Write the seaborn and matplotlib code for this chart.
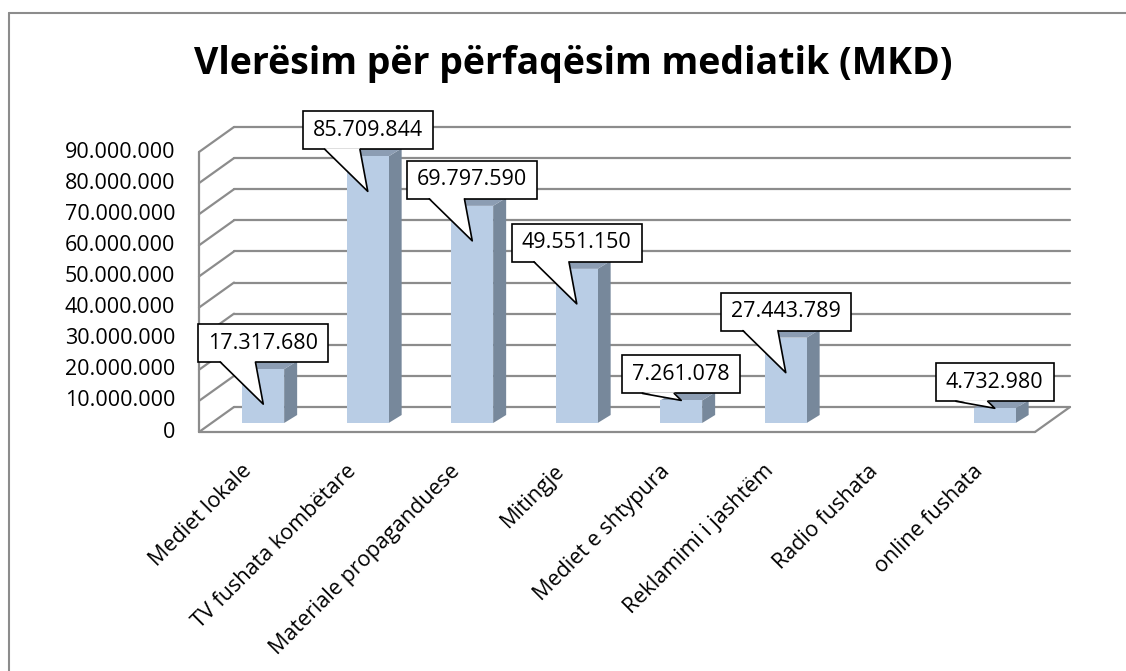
import matplotlib
matplotlib.use("Agg")
import matplotlib.pyplot as plt
import seaborn as sns
from matplotlib.patches import Polygon, Rectangle
from matplotlib.lines import Line2D

# chart data
categories = ["Mediet lokale", "TV fushata kombëtare", "Materiale propaganduese",
              "Mitingje", "Mediet e shtypura", "Reklamimi i jashtëm",
              "Radio fushata", "online fushata"]
values = [17317680, 85709844, 69797590, 49551150, 7261078, 27443789, 0, 4732980]
value_labels = ["17.317.680", "85.709.844", "69.797.590", "49.551.150",
                "7.261.078", "27.443.789", "", "4.732.980"]
y_ticks = [0, 10000000, 20000000, 30000000, 40000000, 50000000,
           60000000, 70000000, 80000000, 90000000]
y_tick_labels = ["0", "10.000.000", "20.000.000", "30.000.000", "40.000.000",
                 "50.000.000", "60.000.000", "70.000.000", "80.000.000", "90.000.000"]
title = "Vlerësim për përfaqësim mediatik (MKD)"

sns.set_style("white")
plt.rcParams['font.family'] = ['Open Sans', 'DejaVu Sans']

W, H = 1126, 671
fig = plt.figure(figsize=(W / 100, H / 100), dpi=100)
ax = fig.add_axes([211 / W, (H - 423) / H, 836 / W, 280 / H])

front = "#B9CDE5"
side = "#77889B"
top = "#8C9DB3"
grid = "#8C8C8C"

sns.barplot(x=categories, y=values, color=front, width=0.4, saturation=1,
            ax=ax, zorder=3, linewidth=0)
ax.set_xlim(-0.5, 7.5)
ax.set_ylim(0, 90000000)
ax.set_axis_off()

# pixel -> data helpers
p0 = ax.transData.transform((0, 0))
p1 = ax.transData.transform((1, 10000000))
pxx = p1[0] - p0[0]
pxy = (p1[1] - p0[1]) / 10000000
def dx(px):
    return px / pxx
def dy(px):
    return px / pxy

# plane offsets (front wall / back wall)
fx, fy = dx(-12), dy(-9)
bx, by = dx(23), dy(16)
x0, x1 = -0.5, 7.5

kw = dict(color=grid, lw=1.6, clip_on=False, zorder=1, solid_capstyle='round')
for t in y_ticks:
    ax.plot([x0 + bx, x1 + bx], [t + by, t + by], **kw)
    ax.plot([x0 + fx, x0 + bx], [t + fy, t + by], **kw)
ax.plot([x0 + fx, x0 + fx], [fy, y_ticks[-1] + fy], **kw)
ax.plot([x0 + fx, x1 + fx], [fy, fy], **kw)
ax.plot([x1 + fx, x1 + bx], [fy, by], **kw)

for t, lab in zip(y_ticks, y_tick_labels):
    ax.text(x0 + fx - dx(24), t + fy, lab, ha='right', va='center',
            fontsize=15.5, color='black')

for i, lab in enumerate(categories):
    ax.text(i + fx - dx(3), fy - dy(36), lab, ha='right', va='center',
            rotation=45, rotation_mode='anchor', fontsize=15.5, color='black')

# bar depth
hw = 0.2
ddx, ddy = dx(13), dy(8)
for i, v in enumerate(values):
    if v <= 0:
        continue
    ax.add_patch(Polygon([(i + hw, 0), (i + hw + ddx, ddy), (i + hw + ddx, v + ddy), (i + hw, v)],
                         closed=True, fc=side, ec='none', zorder=2.5, clip_on=False))
    ax.add_patch(Polygon([(i - hw, v), (i + hw, v), (i + hw + ddx, v + ddy), (i - hw + ddx, v + ddy)],
                         closed=True, fc=top, ec='none', zorder=2.5, clip_on=False))

# callouts
texts = []
for i, (v, lab) in enumerate(zip(values, value_labels)):
    if not lab:
        continue
    t = ax.text(i, v + dy(26), lab, ha='center', va='center', fontsize=15.5,
                color='black', zorder=8)
    texts.append((i, v, t))

fig.canvas.draw()
renderer = fig.canvas.get_renderer()
for i, v, t in texts:
    bb = t.get_window_extent(renderer)
    bw = dx(bb.width + 20)
    bh = dy(38)
    cy = v + dy(26)
    left = i - bw / 2
    bottom = cy - bh / 2
    ax.add_patch(Rectangle((left, bottom), bw, bh, fc='white', ec='black',
                           lw=1.2, zorder=6, clip_on=False))
    tip_y = v - dy(35) if v > dy(45) else v
    b1 = left + 0.17 * bw
    b2 = left + 0.44 * bw
    yb = bottom + dy(1.2)
    ax.add_patch(Polygon([(b1, yb), (i, tip_y), (b2, yb)], closed=True,
                         fc='white', ec='none', zorder=7, clip_on=False))
    ax.plot([b1, i, b2], [bottom, tip_y, bottom], color='black', lw=1.2,
            zorder=7, clip_on=False)

fig.text(573 / W, 1 - 74 / H, title, ha='center', va='baseline',
         fontsize=27, fontweight='bold', color='black')

# outer chart frame (only top and left edges are inside the picture)
fy_top = 1 - 12.5 / H
fx_left = 8.5 / W
fig.add_artist(Line2D([fx_left, 1.05], [fy_top, fy_top], transform=fig.transFigure,
                      color=grid, lw=1.5))
fig.add_artist(Line2D([fx_left, fx_left], [-0.05, fy_top], transform=fig.transFigure,
                      color=grid, lw=1.5))

fig.savefig("out.png", dpi=100)
